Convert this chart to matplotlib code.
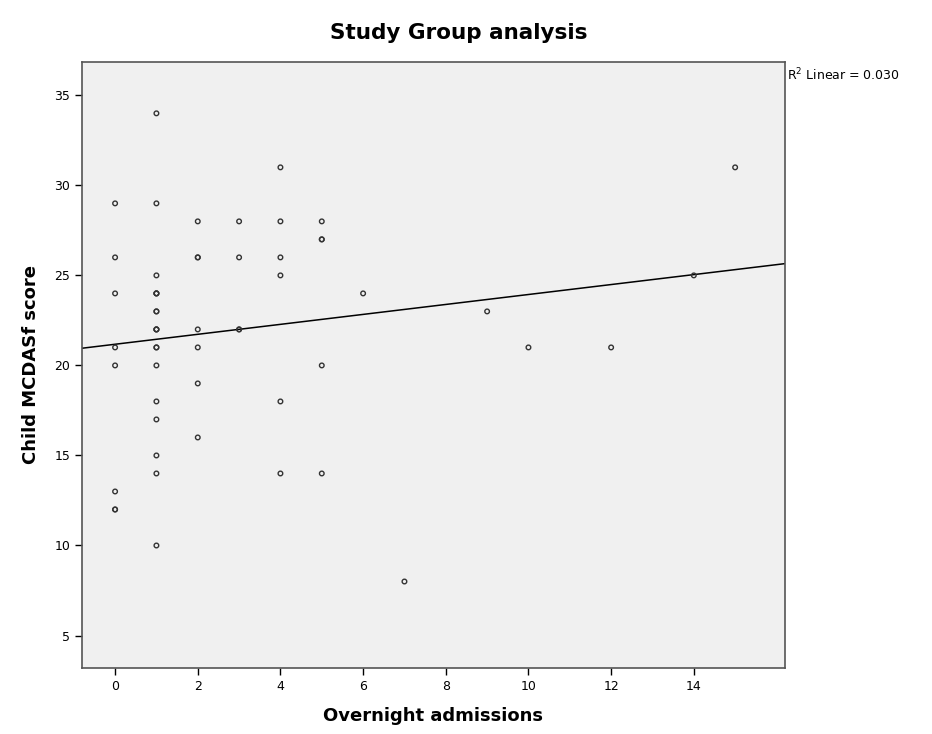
import numpy as np
import matplotlib
matplotlib.use("Agg")
import matplotlib.pyplot as plt

# overnight admissions (x) and child MCDASf score (y); repeated pairs = overlapping points
admissions = [0, 0, 0, 0, 0, 0, 0, 0,
              1, 1, 1, 1, 1, 1, 1, 1, 1, 1, 1, 1, 1, 1, 1, 1, 1, 1, 1,
              2, 2, 2, 2, 2, 2, 2,
              3, 3, 3, 3,
              4, 4, 4, 4, 4, 4,
              5, 5, 5, 5, 5,
              6, 7, 9, 10, 12, 14, 15]
scores = [29, 26, 24, 21, 20, 13, 12, 12,
          34, 29, 25, 24, 24, 23, 23, 22, 22, 21, 21, 20, 18, 17, 15, 14, 10, 24, 22,
          28, 26, 26, 22, 21, 19, 16,
          28, 26, 22, 22,
          31, 28, 26, 25, 18, 14,
          28, 27, 27, 20, 14,
          24, 8, 23, 21, 21, 25, 31]
x_ticks = [0, 2, 4, 6, 8, 10, 12, 14]
y_ticks = [5, 10, 15, 20, 25, 30, 35]

fig = plt.figure(figsize=(9.32, 7.34), dpi=100)
ax = fig.add_axes([0.088, 0.090, 0.754, 0.8255])
ax.set_facecolor("#f0f0f0")

ax.scatter(admissions, scores, s=11, facecolors="none", edgecolors="#333333",
           linewidths=1.0, zorder=3)

# linear fit line across the whole axis
slope, intercept = np.polyfit(admissions, scores, 1)
xlim = (-0.8, 16.2)
xs = np.array(xlim)
ax.plot(xs, intercept + slope * xs, color="black", linewidth=1.1, zorder=2)

ax.set_xlim(*xlim)
ax.set_ylim(3.2, 36.85)
ax.set_xticks(x_ticks)
ax.set_yticks(y_ticks)
ax.tick_params(direction="out", length=5, width=1, labelsize=9, colors="black")
for sp in ax.spines.values():
    sp.set_color("#555555")
    sp.set_linewidth(1.2)

ax.set_xlabel("Overnight admissions", fontsize=13, fontweight="bold", labelpad=10)
ax.set_ylabel("Child MCDASf score", fontsize=13, fontweight="bold", labelpad=10)
fig.text(0.492, 0.955, "Study Group analysis", fontsize=15.5, fontweight="bold",
         ha="center", va="center")
fig.text(0.844, 0.898, "R$^2$ Linear = 0.030", fontsize=9, ha="left", va="center")

fig.savefig("out.png", dpi=100)
